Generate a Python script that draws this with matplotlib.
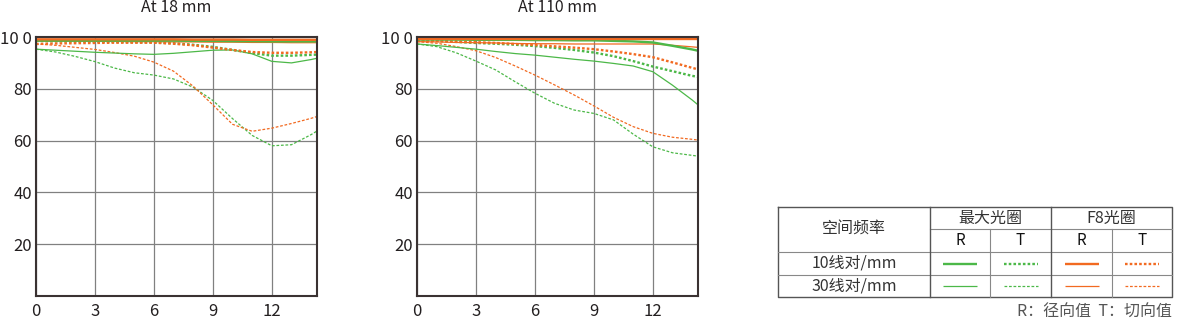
import matplotlib
matplotlib.use("Agg")
import matplotlib.pyplot as plt
from matplotlib.lines import Line2D

plt.rcParams['font.family'] = ['Noto Sans CJK SC', 'DejaVu Sans']

GREEN = "#4cb848"
ORANGE = "#f26a21"
GRID = "#808080"
FRAME = "#3a3232"

# image height (mm from centre)
x_mm = [0, 1, 2, 3, 4, 5, 6, 7, 8, 9, 10, 11, 12, 13, 14, 14.3]

# ---- At 18 mm ----
w18_max_r10 = [98.6, 98.6, 98.6, 98.6, 98.6, 98.6, 98.6, 98.6, 98.5, 98.5, 98.4, 98.4, 98.3, 98.3, 98.3, 98.3]
w18_max_t10 = [98.5, 98.4, 98.3, 98.2, 98.1, 98.0, 97.9, 97.6, 97.0, 96.2, 95.0, 93.8, 92.8, 92.8, 93.1, 93.2]
w18_max_r30 = [95.3, 94.9, 94.5, 94.1, 93.8, 93.5, 93.3, 93.7, 94.3, 94.9, 95.0, 93.5, 90.6, 90.0, 91.3, 91.8]
w18_max_t30 = [95.3, 94.2, 92.5, 90.5, 88.0, 86.2, 85.3, 83.8, 80.6, 75.5, 68.5, 62.0, 58.0, 58.4, 62.3, 63.7]
w18_f8_r10 = [99.1, 99.1, 99.1, 99.1, 99.1, 99.1, 99.1, 99.1, 99.0, 99.0, 99.0, 98.9, 98.9, 98.9, 98.9, 98.9]
w18_f8_t10 = [97.3, 97.5, 97.6, 97.7, 97.8, 97.8, 97.8, 97.4, 96.8, 95.9, 95.0, 94.2, 93.9, 93.9, 94.1, 94.2]
w18_f8_r30 = [98.4, 98.4, 98.4, 98.3, 98.3, 98.2, 98.2, 98.1, 98.1, 98.0, 98.0, 97.9, 97.9, 97.8, 97.8, 97.8]
w18_f8_t30 = [97.3, 96.8, 96.0, 95.2, 94.0, 92.6, 90.3, 86.8, 81.0, 73.8, 66.3, 63.6, 64.8, 66.6, 68.6, 69.3]

# ---- At 110 mm ----
t110_max_r10 = [99.0, 99.0, 99.0, 98.9, 98.9, 98.9, 98.8, 98.8, 98.7, 98.7, 98.5, 98.3, 97.9, 96.6, 95.2, 94.7]
t110_max_t10 = [98.7, 98.5, 98.1, 97.7, 97.4, 97.0, 96.5, 95.8, 95.0, 94.0, 92.6, 90.7, 88.6, 86.8, 85.0, 84.6]
t110_max_r30 = [97.3, 96.7, 96.0, 95.3, 94.4, 93.6, 93.0, 92.2, 91.4, 90.7, 89.8, 88.8, 86.6, 81.4, 75.7, 73.8]
t110_max_t30 = [97.3, 96.3, 93.9, 90.7, 87.3, 82.7, 78.3, 74.4, 71.8, 70.5, 68.0, 62.5, 57.6, 55.3, 54.3, 54.0]
t110_f8_r10 = [99.1, 99.1, 99.1, 99.1, 99.1, 99.1, 99.1, 99.1, 99.1, 99.1, 99.1, 99.1, 99.1, 99.1, 99.1, 99.1]
t110_f8_t10 = [98.7, 98.5, 98.3, 98.0, 97.7, 97.3, 96.9, 96.4, 95.9, 95.3, 94.4, 93.4, 92.2, 90.2, 88.1, 87.5]
t110_f8_r30 = [98.2, 98.1, 97.9, 97.8, 97.7, 97.5, 97.4, 97.4, 97.3, 97.3, 97.3, 97.3, 97.3, 96.8, 96.2, 96.0]
t110_f8_t30 = [98.2, 97.6, 96.3, 94.7, 92.1, 88.8, 85.3, 81.5, 77.6, 73.4, 69.0, 65.4, 62.8, 61.3, 60.5, 60.2]

x_ticks = [0, 3, 6, 9, 12]
y_ticks = [20, 40, 60, 80, 100]
y_labels = ["20", "40", "60", "80", "10 0"]
titles = ["At 18 mm", "At 110 mm"]

THICK = dict(lw=1.7)
THIN = dict(lw=0.9)
DOT_THICK = (0, (1.1, 0.9))
DOT_THIN = (0, (2.2, 1.4))

styles = {
    "max_r10": dict(color=GREEN, ls="-", **THICK),
    "max_t10": dict(color=GREEN, ls=DOT_THICK, **THICK),
    "max_r30": dict(color=GREEN, ls="-", **THIN),
    "max_t30": dict(color=GREEN, ls=DOT_THIN, **THIN),
    "f8_r10": dict(color=ORANGE, ls="-", **THICK),
    "f8_t10": dict(color=ORANGE, ls=DOT_THICK, **THICK),
    "f8_r30": dict(color=ORANGE, ls="-", **THIN),
    "f8_t30": dict(color=ORANGE, ls=DOT_THIN, **THIN),
}

panels = [
    {"max_t30": w18_max_t30, "f8_t30": w18_f8_t30, "max_r30": w18_max_r30,
     "max_t10": w18_max_t10, "f8_t10": w18_f8_t10, "f8_r30": w18_f8_r30,
     "max_r10": w18_max_r10, "f8_r10": w18_f8_r10},
    {"max_t30": t110_max_t30, "f8_t30": t110_f8_t30, "max_r30": t110_max_r30,
     "max_t10": t110_max_t10, "f8_t10": t110_f8_t10, "f8_r30": t110_f8_r30,
     "max_r10": t110_max_r10, "f8_r10": t110_f8_r10},
]

W, H = 1200, 321
fig = plt.figure(figsize=(W / 100, H / 100), dpi=100)

lefts = [36, 417]
for left, title, data in zip(lefts, titles, panels):
    ax = fig.add_axes([left / W, (H - 296) / H, 281 / W, (296 - 37) / H])
    for key, vals in data.items():
        ax.plot(x_mm, vals, solid_capstyle="butt", dash_capstyle="butt",
                solid_joinstyle="round", **styles[key])
    ax.set_xlim(0, 14.3)
    ax.set_ylim(0, 100)
    ax.set_xticks(x_ticks)
    ax.set_xticklabels([str(t) for t in x_ticks])
    ax.set_yticks(y_ticks)
    ax.set_yticklabels(y_labels)
    ax.tick_params(length=0, labelsize=12, colors="#231f20")
    ax.tick_params(axis="y", pad=3)
    ax.tick_params(axis="x", pad=5)
    ax.grid(True, color=GRID, lw=0.9)
    ax.set_axisbelow(True)
    for s in ax.spines.values():
        s.set_color(FRAME)
        s.set_linewidth(1.5)
    fig.text((left + 140) / W, 1 - 8 / H, title, ha="center", va="center",
             fontsize=11.5, color="#231f20")

# ---- legend table (pixel coordinates) ----
tab = fig.add_axes([0, 0, 1, 1])
tab.set_xlim(0, W)
tab.set_ylim(H, 0)
tab.axis("off")

cols = [778, 930, 990, 1051, 1112, 1172]
rows = [207, 229, 252, 275, 297]
LC = "#555555"
# outer box
tab.plot([cols[0], cols[-1], cols[-1], cols[0], cols[0]],
         [rows[0], rows[0], rows[-1], rows[-1], rows[0]], color=LC, lw=1)
# horizontal lines
tab.plot([cols[1], cols[-1]], [rows[1]] * 2, color="#888888", lw=0.8)
for r in rows[2:4]:
    tab.plot([cols[0], cols[-1]], [r, r], color="#888888", lw=0.8)
# vertical lines
tab.plot([cols[1]] * 2, [rows[0], rows[-1]], color=LC, lw=1)
tab.plot([cols[3]] * 2, [rows[0], rows[-1]], color=LC, lw=1)
for c in (cols[2], cols[4]):
    tab.plot([c, c], [rows[1], rows[-1]], color="#888888", lw=0.8)

TXT = "#333333"
fs = 11.5
tab.text((cols[0] + cols[1]) / 2, (rows[0] + rows[2]) / 2, "空间频率",
         ha="center", va="center", fontsize=fs, color=TXT)
tab.text((cols[1] + cols[3]) / 2, (rows[0] + rows[1]) / 2, "最大光圈",
         ha="center", va="center", fontsize=fs, color=TXT)
tab.text((cols[3] + cols[5]) / 2, (rows[0] + rows[1]) / 2, "F8光圈",
         ha="center", va="center", fontsize=fs, color=TXT)
for i, lab in enumerate(["R", "T", "R", "T"]):
    tab.text((cols[i + 1] + cols[i + 2]) / 2, (rows[1] + rows[2]) / 2, lab,
             ha="center", va="center", fontsize=fs - 0.5, color="#111111")
row_labels = ["10线对/mm", "30线对/mm"]
row_keys = [["max_r10", "max_t10", "f8_r10", "f8_t10"],
            ["max_r30", "max_t30", "f8_r30", "f8_t30"]]
for j, (lab, keys) in enumerate(zip(row_labels, row_keys)):
    yc = (rows[j + 2] + rows[j + 3]) / 2
    tab.text((cols[0] + cols[1]) / 2, yc, lab, ha="center", va="center",
             fontsize=fs, color=TXT)
    for i, k in enumerate(keys):
        xc = (cols[i + 1] + cols[i + 2]) / 2
        st = dict(styles[k])
        tab.add_line(Line2D([xc - 17, xc + 17], [yc, yc],
                            solid_capstyle="butt", dash_capstyle="butt", **st))

tab.text(cols[-1], 312, "R：径向值  T：切向值", ha="right", va="center",
         fontsize=fs, color="#555555")

fig.savefig("out.png", dpi=100, facecolor="white")
